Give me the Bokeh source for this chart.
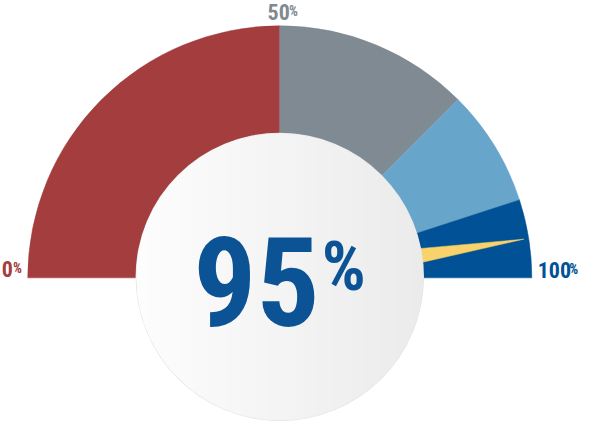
import numpy as np
from bokeh.plotting import figure
from bokeh.models import ColumnDataSource
from bokeh.core.properties import value
from bokeh.embed import file_html
from bokeh.resources import INLINE

# gauge bands (percent of the half circle)
band_start = [0, 50, 75, 90]
band_end = [50, 75, 90, 100]
band_color = ["#A43D3E", "#7F8A92", "#68A5CB", "#005196"]

reading = 95
tick_values = [0, 50, 100]
tick_labels = ["0", "50", "100"]
tick_color = ["#A43D3E", "#7F8A92", "#005196"]

FONT = "Roboto Condensed, DejaVu Sans Condensed, Roboto, sans-serif"
W, H = 579, 421
s = W / 595.0                      # px per unit
yspan = H / s
top = 433

p = figure(width=W, height=H, x_range=(0, 595), y_range=(top - yspan, top),
           output_backend="svg", toolbar_location=None, min_border=0)
p.axis.visible = False
p.grid.visible = False
p.outline_line_color = None
p.background_fill_color = "white"
p.border_fill_color = "white"

cx, cy = 287, 148
R = 259
r_in = 147


def ang(pct):
    return np.pi * (1 - pct / 100.0)


def base(y, px):
    # svg text sits a bit low with alphabetic baseline, lift it
    return y + 0.365 * px / s


src = ColumnDataSource(dict(
    start=[ang(e) for e in band_end],
    end=[ang(b) for b in band_start],
    color=band_color,
))
p.wedge(x=cx, y=cy, radius=R, start_angle="start", end_angle="end",
        fill_color="color", line_color="color", line_width=0.5, source=src)

# needle
t = ang(reading)
tip = (cx + 254 * np.cos(t), cy + 254 * np.sin(t))
hw = 17
nx, ny = -np.sin(t), np.cos(t)
p.patch([tip[0], cx + hw * nx, cx - hw * nx], [tip[1], cy + hw * ny, cy - hw * ny],
        fill_color="#F8D26A", line_color="#F8D26A", line_width=0.5)

# centre disc with soft horizontal gradient
ccx, ccy = 287, 149
p.circle(x=ccx, y=ccy, radius=r_in + 1.2, fill_color="#E4E4E4", line_color=None)
N = 60
xs, ys, cols = [], [], []
for i in range(N):
    x0 = ccx - r_in + 2 * r_in * i / N
    x1 = ccx - r_in + 2 * r_in * (i + 1) / N
    xx = np.linspace(x0, x1, 6)
    h = np.sqrt(np.clip(r_in ** 2 - (xx - ccx) ** 2, 0, None))
    xs.append(list(xx) + list(xx[::-1]))
    ys.append(list(ccy + h) + list((ccy - h)[::-1]))
    f = i / (N - 1)
    g = int(round(253 - 18 * f))
    cols.append("#%02x%02x%02x" % (g, g, g))
p.patches(xs, ys, fill_color=cols, line_color=cols, line_width=1)

# centre reading
fs_big = 125
fs_pct = 69
p.text(x=[328], y=[base(97, fs_big)], text=[str(reading)], text_font=value(FONT),
       text_font_style="bold", text_font_size="%dpx" % fs_big,
       text_color="#0B5395", text_align="right", text_baseline="alphabetic")
p.text(x=[330], y=[base(134, fs_pct)], text=["%"], text_font=value(FONT),
       text_font_style="bold", text_font_size="%dpx" % fs_pct,
       text_color="#0B5395", text_align="left", text_baseline="alphabetic")

# scale labels
big = 23
small = 14
gap = 6
for v, lab, col in zip(tick_values, tick_labels, tick_color):
    wd = 0.456 * big * len(lab)
    wp = 0.73 * small
    if v == 0:
        x_d = cx - R - gap - wp - wd
        yb = cy + 1
    elif v == 100:
        x_d = cx + R + gap
        yb = cy
    else:
        x_d = cx + 3 - (wd + wp) / 2
        yb = cy + R + gap
    p.text(x=[x_d], y=[base(yb, big * s)], text=[lab], text_font=value(FONT),
           text_font_style="bold", text_font_size="%dpx" % round(big * s),
           text_color=col, text_align="left", text_baseline="alphabetic")
    p.text(x=[x_d + wd + 1], y=[base(yb + 4, small * s)], text=["%"],
           text_font=value(FONT), text_font_style="bold",
           text_font_size="%dpx" % round(small * s),
           text_color=col, text_align="left", text_baseline="alphabetic")

open("out.html", "w").write(file_html(p, INLINE))
